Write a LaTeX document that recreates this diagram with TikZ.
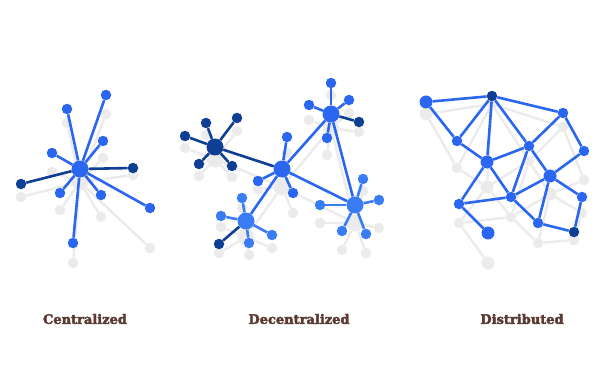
\documentclass[tikz,border=0pt]{standalone}
\usepackage{fontspec}
\setmainfont{DejaVu Serif}
\newfontfamily\capfont{DejaVu Serif}[FakeBold=3]
\usepackage{tikz}
\usetikzlibrary{math}

\definecolor{netblue}{HTML}{2A66F0}
\definecolor{netlight}{HTML}{3A7CF4}
\definecolor{netdark}{HTML}{0E3F94}
\definecolor{shadegray}{HTML}{EBEBEB}
\definecolor{labelbrown}{HTML}{5B3A32}

\tikzset{
    dot/.style={circle, inner sep=0pt, minimum size=10.5pt, fill=netblue},
    bigdot/.style={dot, minimum size=13pt},
    darkdot/.style={dot, fill=netdark},
    lightdot/.style={dot, fill=netlight},
    hub/.style={dot, minimum size=17pt},
    darkhub/.style={hub, fill=netdark},
    lighthub/.style={hub, fill=netlight},
    link/.style={draw=netblue, line width=2.6pt},
    darklink/.style={draw=netdark, line width=2.6pt},
    lightlink/.style={draw=netlight, line width=2.6pt},
    shadelink/.style={draw=shadegray, line width=2.4pt},
    caption/.style={font=\capfont\bfseries\fontsize{13}{15}\selectfont, text=labelbrown}
}

\begin{document}
\begin{tikzpicture}[x=1pt, y=-1pt]
    \useasboundingbox (0,0) rectangle (612,374);

    % shadows: name / x / y / drop / style
    \foreach \n/\x/\y/\d/\s in {
        c0/80/169/13/hub, c1/67/109/14/dot, c2/106/95/19/dot, c3/103/141/17/dot,
        c4/52/153/19/dot, c5/133/168/7/darkdot, c6/21/184/13/darkdot, c7/60/193/17/dot,
        c8/101/195/22/dot, c9/150/208/40/dot, c10/73/243/20/dot,
        hA/215/147/12/darkhub, a1/206/123/12/darkdot, a2/237/118/13/darkdot,
        a3/185/136/12/darkdot, a4/199/164/12/darkdot, a5/232/166/11/darkdot,
        hB/282/169/18/hub, b1/287/137/16/dot, b2/258/181/8/dot, b3/293/193/20/dot,
        hC/331/114/14/hub, k1/331/83/12/dot, k2/309/105/15/dot, k3/349/100/13/dot,
        k4/359/122/10/darkdot, k5/327/138/17/dot,
        hD/355/205/18/lighthub, e1/363/179/12/lightdot, e2/379/200/28/lightdot,
        e3/320/205/18/lightdot, e4/342/231/19/lightdot, e5/366/234/19/lightdot,
        hE/246/221/16/lighthub, f1/242/198/10/lightdot, f2/221/216/11/lightdot,
        f3/272/235/13/lightdot, f4/249/243/12/lightdot, f5/219/244/9/darkdot,
        n1/426/102/12/bigdot, n2/492/96/8/darkdot, n3/563/113/14/dot,
        n4/457/141/27/dot, n5/529/146/15/dot, n6/584/151/29/dot,
        n7/487/162/25/bigdot, n8/550/176/18/bigdot, n9/511/197/20/dot,
        n10/459/204/19/dot, n11/582/197/16/dot, n12/538/223/20/dot,
        n13/488/233/30/bigdot, n14/574/232/8/darkdot}
        \node[\s, fill=shadegray] (s\n) at (\x,\y+\d) {};

    \foreach \a/\b in {c0/c1, c0/c2, c0/c3, c0/c4, c0/c5, c0/c6, c0/c7, c0/c8, c0/c9, c0/c10,
        hA/a1, hA/a2, hA/a3, hA/a4, hA/a5, hA/hB, hB/b1, hB/b2, hB/b3, hB/hC, hB/hD, hB/hE,
        hC/k1, hC/k2, hC/k3, hC/k4, hC/k5, hC/hD, hD/e1, hD/e2, hD/e3, hD/e4, hD/e5,
        hE/f1, hE/f2, hE/f3, hE/f4, hE/f5,
        n1/n2, n1/n4, n2/n3, n2/n4, n2/n7, n2/n5, n4/n7, n7/n5, n5/n3, n3/n6, n5/n8,
        n6/n8, n5/n9, n7/n9, n7/n10, n8/n9, n8/n11, n8/n12, n9/n10, n9/n12, n10/n13,
        n12/n14, n11/n14}
        \draw[shadelink] (s\a) -- (s\b);

    % the nodes themselves
    \foreach \n/\x/\y/\s in {
        c0/80/169/hub, c1/67/109/dot, c2/106/95/dot, c3/103/141/dot,
        c4/52/153/dot, c5/133/168/darkdot, c6/21/184/darkdot, c7/60/193/dot,
        c8/101/195/dot, c9/150/208/dot, c10/73/243/dot,
        hA/215/147/darkhub, a1/206/123/darkdot, a2/237/118/darkdot,
        a3/185/136/darkdot, a4/199/164/darkdot, a5/232/166/darkdot,
        hB/282/169/hub, b1/287/137/dot, b2/258/181/dot, b3/293/193/dot,
        hC/331/114/hub, k1/331/83/dot, k2/309/105/dot, k3/349/100/dot,
        k4/359/122/darkdot, k5/327/138/dot,
        hD/355/205/lighthub, e1/363/179/lightdot, e2/379/200/lightdot,
        e3/320/205/lightdot, e4/342/231/lightdot, e5/366/234/lightdot,
        hE/246/221/lighthub, f1/242/198/lightdot, f2/221/216/lightdot,
        f3/272/235/lightdot, f4/249/243/lightdot, f5/219/244/darkdot,
        n1/426/102/bigdot, n2/492/96/darkdot, n3/563/113/dot,
        n4/457/141/dot, n5/529/146/dot, n6/584/151/dot,
        n7/487/162/bigdot, n8/550/176/bigdot, n9/511/197/dot,
        n10/459/204/dot, n11/582/197/dot, n12/538/223/dot,
        n13/488/233/bigdot, n14/574/232/darkdot}
        \node[\s] (\n) at (\x,\y) {};

    % centralized
    \foreach \b in {c1, c2, c3, c4, c7, c8, c9, c10}
        \draw[link] (c0) -- (\b);
    \draw[darklink] (c0) -- (c5);
    \draw[darklink] (c0) -- (c6);

    % decentralized
    \foreach \b in {a1, a2, a3, a4, a5, hB}
        \draw[darklink] (hA) -- (\b);
    \foreach \b in {b1, b2, b3, hC, hD, hE}
        \draw[link] (hB) -- (\b);
    \foreach \b in {k1, k2, k3, k5, hD}
        \draw[link] (hC) -- (\b);
    \draw[darklink] (hC) -- (k4);
    \foreach \b in {e1, e2, e3, e4, e5}
        \draw[lightlink] (hD) -- (\b);
    \foreach \b in {f1, f2, f3, f4}
        \draw[lightlink] (hE) -- (\b);
    \draw[darklink] (hE) -- (f5);

    % distributed
    \foreach \a/\b in {n1/n2, n1/n4, n2/n3, n2/n4, n2/n7, n2/n5, n4/n7, n7/n5, n5/n3,
        n3/n6, n5/n8, n6/n8, n5/n9, n7/n9, n7/n10, n8/n9, n8/n11, n8/n12, n9/n10,
        n9/n12, n10/n13, n12/n14, n11/n14}
        \draw[link] (\a) -- (\b);

    \node[caption] (cent) at (85,319) {Centralized};
    \node[caption] (decent) at (299,319) {Decentralized};
    \node[caption] (dist) at (522,319) {Distributed};
\end{tikzpicture}
\end{document}
